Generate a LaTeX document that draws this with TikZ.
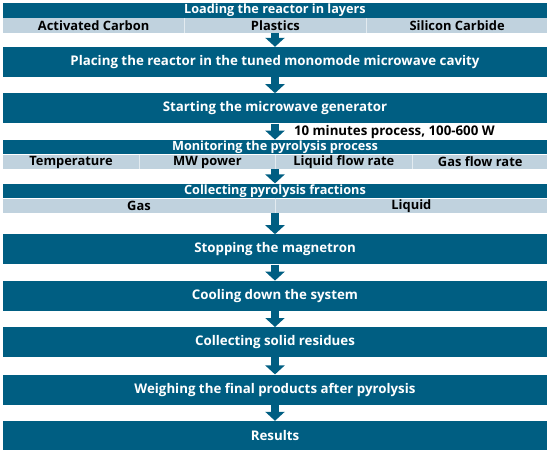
\documentclass[tikz,border=0pt]{standalone}
\usepackage{fontspec}
\setmainfont{Open Sans}
\usepackage{tikz}
\usetikzlibrary{arrows.meta, positioning}
\definecolor{flowdark}{RGB}{0, 94, 130}
\definecolor{flowlight}{RGB}{192, 210, 222}

\begin{document}
\begin{tikzpicture}[
  stage/.style={fill=flowdark, text=white, minimum width=544pt,
                minimum height=30pt, inner sep=0pt,
                font=\bfseries\fontsize{13.3}{15}\selectfont},
  headbox/.style={stage, minimum height=14.5pt,
                  font=\bfseries\fontsize{12.7}{14}\selectfont},
  bandbox/.style={fill=flowlight, minimum width=544pt,
                  minimum height=14.5pt, inner sep=0pt},
  cell/.style={minimum height=14.5pt, inner sep=0pt,
               font=\bfseries\fontsize{12.9}{14}\selectfont},
  divider/.style={draw=white!55!flowlight, line width=0.8pt},
  flowarrow/.style={draw=flowdark, line width=8pt,
                    -{Triangle[width=19pt, length=9pt]}},
  node distance=16pt
]
  \path[use as bounding box] (0,0) rectangle (550pt,-450pt);

  % loading stage with its three layers
  \node[headbox, anchor=north] (load) at (275pt,-3pt) {Loading the reactor in layers};
  \node[bandbox, below=0pt of load] (loadrow) {};
  \node[cell, minimum width=181.33pt, anchor=west] (carbon) at (loadrow.west) {Activated Carbon};
  \node[cell, minimum width=181.33pt, right=0pt of carbon] (plastics) {Plastics};
  \node[cell, minimum width=181.33pt, right=0pt of plastics] (sic) {Silicon Carbide};
  \draw[divider] (carbon.north east) -- (carbon.south east);
  \draw[divider] (plastics.north east) -- (plastics.south east);

  \node[stage, below=14pt of loadrow] (place)
    {Placing the reactor in the tuned monomode microwave cavity};
  \node[stage, below=of place] (start) {Starting the microwave generator};

  % monitoring stage with four measured values
  \node[headbox, below=of start] (monitor) {Monitoring the pyrolysis process};
  \node[bandbox, below=0pt of monitor] (monitorrow) {};
  \node[cell, minimum width=136pt, anchor=west] (temp) at (monitorrow.west) {Temperature};
  \node[cell, minimum width=136pt, right=0pt of temp] (power) {MW power};
  \node[cell, minimum width=136pt, right=0pt of power] (liqrate) {Liquid flow rate};
  \node[cell, minimum width=136pt, right=0pt of liqrate] (gasrate) {Gas flow rate};
  \draw[divider] (temp.north east) -- (temp.south east);
  \draw[divider] (power.north east) -- (power.south east);
  \draw[divider] (liqrate.north east) -- (liqrate.south east);

  % collected fractions
  \node[headbox, below=14pt of monitorrow] (collect) {Collecting pyrolysis fractions};
  \node[bandbox, below=0pt of collect] (collectrow) {};
  \node[cell, minimum width=272pt, anchor=west] (gas) at (collectrow.west) {Gas};
  \node[cell, minimum width=272pt, right=0pt of gas] (liquid) {Liquid};
  \draw[divider] (gas.north east) -- (gas.south east);

  \node[stage, below=21pt of collectrow] (stop) {Stopping the magnetron};
  \node[stage, below=of stop] (cool) {Cooling down the system};
  \node[stage, below=of cool] (residues) {Collecting solid residues};
  \node[stage, below=17pt of residues] (weigh) {Weighing the final products after pyrolysis};
  \node[stage, below=of weigh] (results) {Results};

  \draw[flowarrow] (loadrow.south) -- (place.north);
  \draw[flowarrow] (place.south) -- (start.north);
  \draw[flowarrow] (start.south) -- (monitor.north)
    node[midway, anchor=west, xshift=15pt, inner sep=0pt,
         font=\bfseries\fontsize{13.3}{15}\selectfont] (note)
    {10 minutes process, 100-600 W};
  \draw[flowarrow] (monitorrow.south) -- (collect.north);
  \draw[flowarrow] (collectrow.south) -- (stop.north);
  \draw[flowarrow] (stop.south) -- (cool.north);
  \draw[flowarrow] (cool.south) -- (residues.north);
  \draw[flowarrow] (residues.south) -- (weigh.north);
  \draw[flowarrow] (weigh.south) -- (results.north);
\end{tikzpicture}
\end{document}
